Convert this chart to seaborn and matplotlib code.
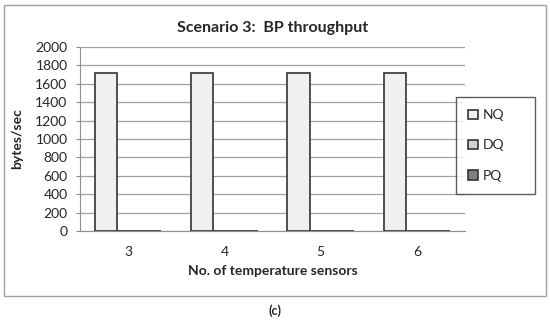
import pandas as pd
import seaborn as sns
from matplotlib import pyplot as plt
from matplotlib.patches import Rectangle

sensors = ["3", "4", "5", "6"]
nq = [1720, 1720, 1720, 1720]
dq = [3, 3, 3, 3]
pq = [2, 2, 2, 2]

df = pd.DataFrame({
    "sensors": sensors * 3,
    "queue": ["NQ"] * 4 + ["DQ"] * 4 + ["PQ"] * 4,
    "value": nq + dq + pq,
})

sns.set_style("white")
plt.rcParams["font.family"] = ["Lato", "DejaVu Sans"]

fig = plt.figure(figsize=(5.5, 3.24), dpi=100)
ax = fig.add_axes([0.1455, 0.287, 0.70, 0.568])

palette = {"NQ": "#f0f0f0", "DQ": "#d0d0d0", "PQ": "#808080"}
sns.barplot(data=df, x="sensors", y="value", hue="queue", palette=palette,
            width=0.69, edgecolor="#333333", linewidth=1.2, ax=ax, zorder=3)

ax.set_ylim(0, 2000)
ax.set_yticks(range(0, 2001, 200))
ax.yaxis.grid(True, color="#a0a0a0", linewidth=0.9, zorder=0)
ax.set_axisbelow(True)
for s in ["top", "right"]:
    ax.spines[s].set_visible(False)
ax.spines["left"].set_color("#909090")
ax.spines["bottom"].set_color("#909090")
ax.set_xlim(-0.5, 3.5)
ax.set_xticks([-0.5, 0.5, 1.5, 2.5, 3.5], minor=True)
ax.tick_params(axis="x", which="minor", length=4, color="#909090", direction="out")
ax.tick_params(axis="x", which="major", length=0, pad=11, labelsize=10)
ax.tick_params(axis="y", length=3, color="#909090", direction="out", left=True,
               pad=6, labelsize=10)

ax.set_title("Scenario 3:  BP throughput", fontsize=11.5, fontweight="bold", pad=11)
ax.set_xlabel("No. of temperature sensors", fontsize=10, fontweight="bold", labelpad=5)
ax.set_ylabel("bytes/sec", fontsize=10, fontweight="bold", labelpad=9)

leg = ax.legend(title=None, loc="center left", bbox_to_anchor=(0.829, 0.404, 0.144, 0.294),
                bbox_transform=fig.transFigure, mode="expand", borderaxespad=0,
                frameon=True, fancybox=False,
                labelspacing=1.3, handlelength=0.7, handleheight=0.7, handletextpad=0.3,
                borderpad=0.9, fontsize=10)
leg.get_frame().set_edgecolor("#333333")
leg.get_frame().set_linewidth(1.0)

fig.patches.append(Rectangle((0.007, 0.086), 0.986, 0.898, transform=fig.transFigure,
                             fill=False, edgecolor="#a0a0a0", linewidth=1.0))
fig.text(0.5, 0.042, "(c)", ha="center", va="center", fontsize=9, fontweight="bold")

fig.savefig("out.png", dpi=100)
